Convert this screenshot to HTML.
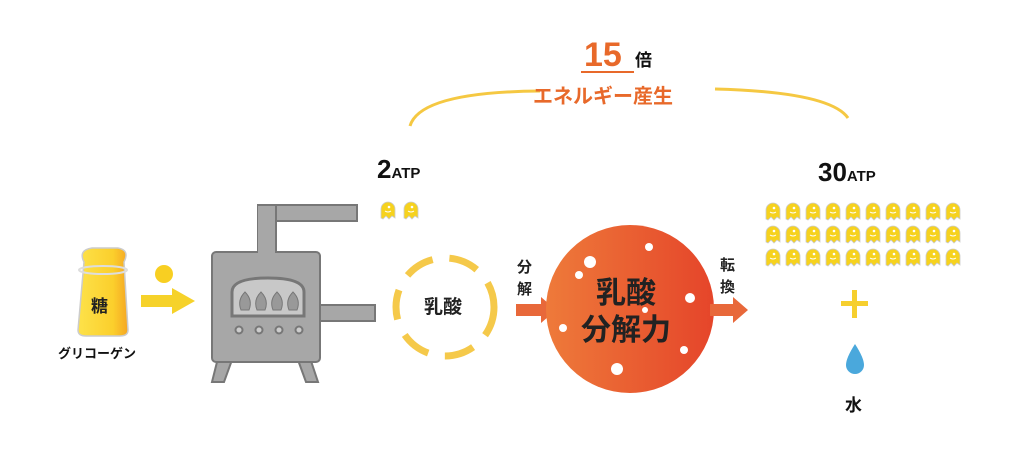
<!DOCTYPE html>
<html><head><meta charset="utf-8"><style>
body{margin:0;background:#fff;}
svg{display:block;font-family:"Liberation Sans","Noto Sans CJK JP",sans-serif;}
</style></head><body>
<svg width="1024" height="466" viewBox="0 0 1024 466">
<defs>
<linearGradient id="rg" x1="0" x2="1"><stop offset="0" stop-color="#ee7a3a"/><stop offset="1" stop-color="#e5452a"/></linearGradient>
<linearGradient id="jg" x1="0" x2="1"><stop offset="0" stop-color="#fde24a"/><stop offset="0.7" stop-color="#fbcf2c"/><stop offset="1" stop-color="#f5a623"/></linearGradient>
<g id="gh"><path d="M0,16 L0,7 A7,7 0 0 1 14,7 L14,16 L11,14 L8,17 L5,14 L2,17 Z" fill="#f6d21e" stroke="#ccc" stroke-width="0.8"/><circle cx="8" cy="5" r="1.3" fill="#fff"/><path d="M4,9 Q7,11 10,9" stroke="#fff" stroke-width="1" fill="none"/></g>
</defs>
<!-- top arc -->
<path d="M410,126 Q420,92 540,91" stroke="#f5c842" stroke-width="3" fill="none"/>
<path d="M715,89 Q830,92 848,118" stroke="#f5c842" stroke-width="3" fill="none"/>
<text x="584" y="66" font-size="34" font-weight="bold" fill="#e8692a">15</text>
<text x="635" y="66" font-size="17" font-weight="bold" fill="#111">倍</text>
<line x1="581" y1="72" x2="634" y2="72" stroke="#e8692a" stroke-width="2"/>
<text x="533" y="103" font-size="20" font-weight="bold" fill="#e8692a">エネルギー産生</text>
<!-- jar -->
<path d="M84,262 Q78,250 92,248 L118,248 Q130,250 124,262 L128,330 Q128,336 120,336 L86,336 Q78,336 78,330 Z" fill="url(#jg)" stroke="#ccc" stroke-width="1.5"/>
<ellipse cx="103" cy="270" rx="24" ry="4" fill="none" stroke="#ddd" stroke-width="2"/>
<text x="91" y="312" font-size="17" font-weight="bold" fill="#222">糖</text>
<text x="58" y="358" font-size="13" font-weight="bold" fill="#111">グリコーゲン</text>
<circle cx="164" cy="274" r="9" fill="#f8cf22"/>
<path d="M141,295 L172,295 L172,288 L195,301 L172,314 L172,307 L141,307 Z" fill="#f6d22a"/>
<!-- stove -->
<g fill="#a7a7a7" stroke="#777" stroke-width="2">
<rect x="258" y="205" width="99" height="16"/>
<rect x="258" y="205" width="18" height="50"/>
<rect x="318" y="305" width="57" height="16"/>
<path d="M218,358 L212,382 L224,382 L232,360 Z M310,358 L318,382 L306,382 L298,360 Z"/>
<rect x="212" y="252" width="108" height="110" rx="4"/>
</g>
<rect x="258" y="206" width="17" height="48" fill="#a7a7a7"/>
<path d="M232,292 Q232,278 268,278 Q304,278 304,292 L304,316 L232,316 Z" fill="#c8c8c8" stroke="#777" stroke-width="3"/>
<g fill="#999" stroke="#777"><path d="M241,310 Q237,300 245,292 Q253,300 249,310Z"/><path d="M257,310 Q253,300 261,292 Q269,300 265,310Z"/><path d="M273,310 Q269,300 277,292 Q285,300 281,310Z"/><path d="M289,310 Q285,300 293,292 Q301,300 297,310Z"/></g>
<g fill="#ccc" stroke="#777" stroke-width="2"><circle cx="239" cy="330" r="3.5"/><circle cx="259" cy="330" r="3.5"/><circle cx="279" cy="330" r="3.5"/><circle cx="299" cy="330" r="3.5"/></g>
<!-- 2ATP -->
<text x="377" y="178" font-size="26" font-weight="bold" fill="#111">2<tspan font-size="15">ATP</tspan></text>
<use href="#gh" x="381" y="202"/><use href="#gh" x="404" y="202"/>
<!-- dashed circle -->
<circle cx="445" cy="307" r="49" fill="none" stroke="#f5c94a" stroke-width="7" stroke-dasharray="30 17"/>
<text x="424" y="313" font-size="19" font-weight="bold" fill="#222">乳酸</text>
<text x="517" y="272" font-size="15" font-weight="bold" fill="#222">分</text>
<text x="517" y="294" font-size="15" font-weight="bold" fill="#222">解</text>
<path d="M516,304 L541,304 L541,297 L556,310 L541,323 L541,316 L516,316 Z" fill="#e8683a"/>
<!-- red circle -->
<circle cx="630" cy="309" r="84" fill="url(#rg)"/>
<g fill="#fff"><circle cx="590" cy="262" r="6"/><circle cx="579" cy="275" r="4"/><circle cx="649" cy="247" r="4"/><circle cx="690" cy="298" r="5"/><circle cx="645" cy="310" r="3"/><circle cx="563" cy="328" r="4"/><circle cx="684" cy="350" r="4"/><circle cx="617" cy="369" r="6"/></g>
<text x="596" y="303" font-size="30" font-weight="bold" fill="#222">乳酸</text>
<text x="581" y="340" font-size="30" font-weight="bold" fill="#222">分解力</text>
<text x="720" y="270" font-size="15" font-weight="bold" fill="#222">転</text>
<text x="720" y="292" font-size="15" font-weight="bold" fill="#222">換</text>
<path d="M710,304 L733,304 L733,297 L748,310 L733,323 L733,316 L710,316 Z" fill="#e8683a"/>
<!-- 30ATP -->
<text x="818" y="181" font-size="26" font-weight="bold" fill="#111">30<tspan font-size="15">ATP</tspan></text>
<g id="row"><use href="#gh" x="766" y="203"/><use href="#gh" x="786" y="203"/><use href="#gh" x="806" y="203"/><use href="#gh" x="826" y="203"/><use href="#gh" x="846" y="203"/><use href="#gh" x="866" y="203"/><use href="#gh" x="886" y="203"/><use href="#gh" x="906" y="203"/><use href="#gh" x="926" y="203"/><use href="#gh" x="946" y="203"/></g>
<use href="#row" y="23"/><use href="#row" y="46"/>
<rect x="852" y="290" width="5" height="28" fill="#f6cf2e"/><rect x="841" y="301" width="27" height="5" fill="#f6cf2e"/>
<path d="M855,344 Q846,358 846,365 A9,9 0 0 0 864,365 Q864,358 855,344Z" fill="#4aa8dc"/>
<text x="845" y="411" font-size="17" font-weight="bold" fill="#111">水</text>
</svg>
</body></html>
